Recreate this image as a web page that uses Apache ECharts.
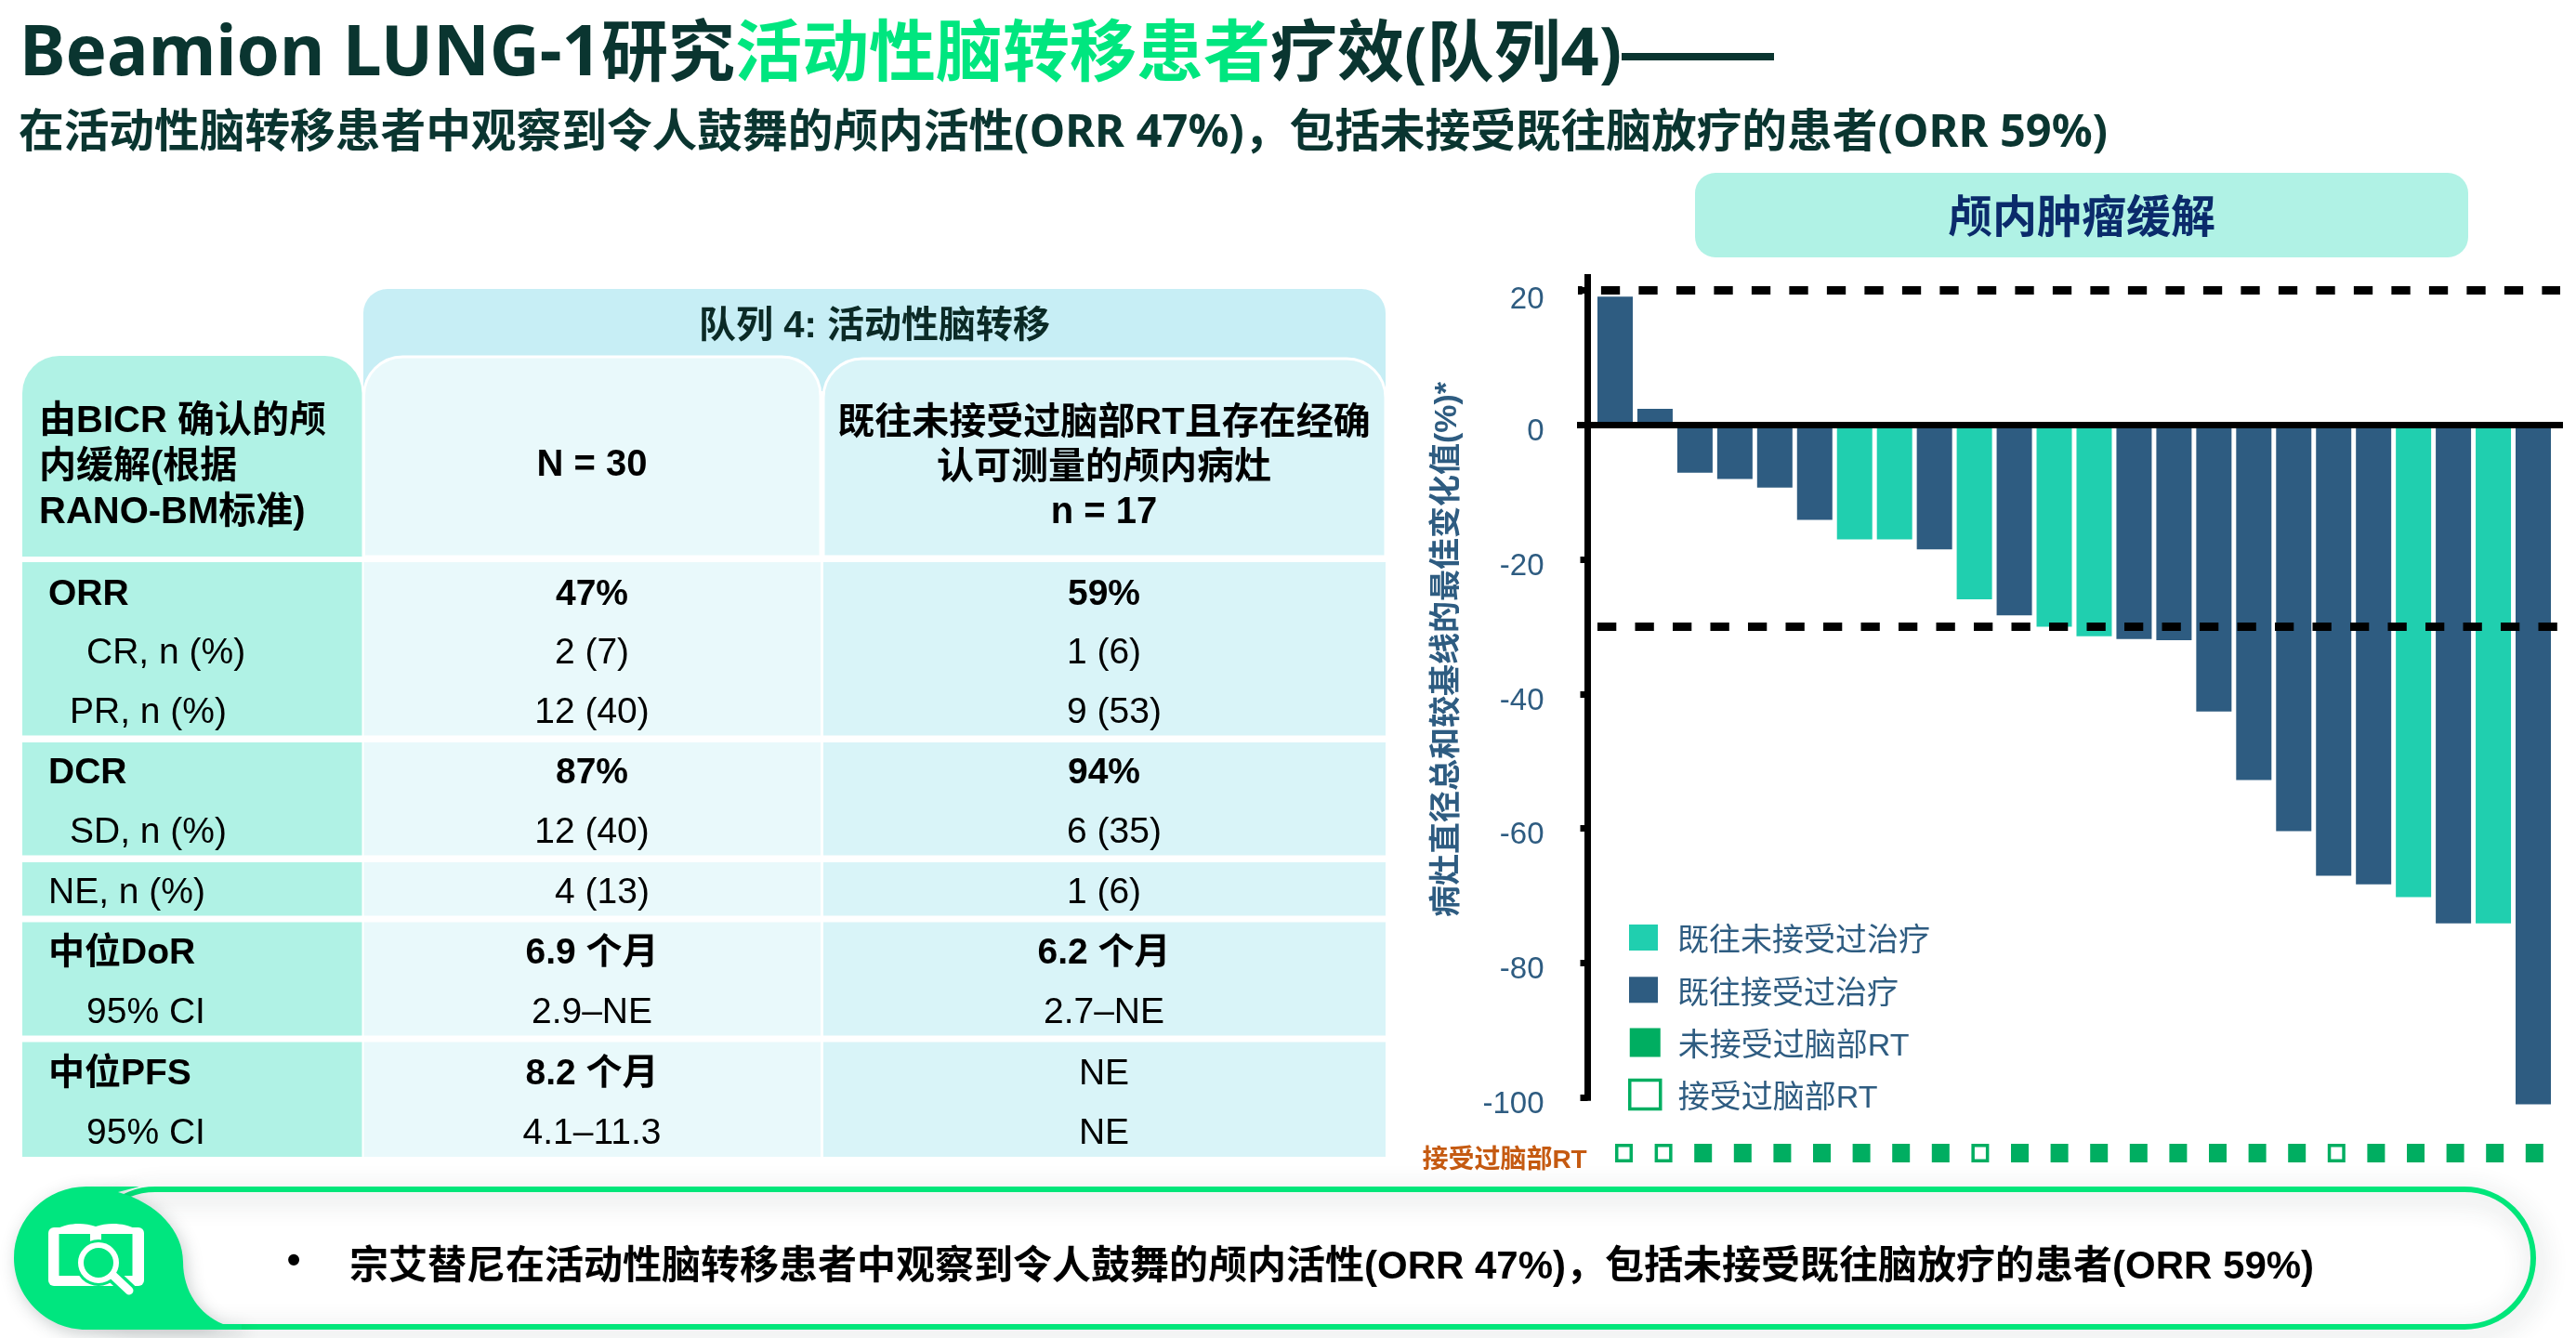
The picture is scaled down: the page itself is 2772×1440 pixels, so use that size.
<!DOCTYPE html>
<html><head><meta charset="utf-8">
<style>html,body{margin:0;padding:0;background:#fff}#c{width:2772px;height:1440px}</style>
<script src="https://cdn.jsdelivr.net/npm/echarts@6/dist/echarts.min.js"></script>
</head><body><div id="c"></div>
<script>
// ---- chart data ----
const patients = [1,2,3,4,5,6,7,8,9,10,11,12,13,14,15,16,17,18,19,20,21,22,23,24];
const bestChange = [19.1,2.4,-7.1,-8.0,-9.3,-14.1,-17.0,-17.0,-18.5,-25.9,-28.3,-30.0,-31.4,-31.8,-32.0,-42.6,-52.8,-60.4,-67.0,-68.3,-70.2,-74.1,-74.1,-101];
// 1 = no prior treatment (teal), 0 = prior treatment (navy)
const treatmentNaive = [0,0,0,0,0,0,1,1,0,1,0,1,1,0,0,0,0,0,0,0,1,0,1,0];
// 1 = prior brain RT (hollow), 0 = no prior brain RT (filled)
const priorBrainRT = [1,1,0,0,0,0,0,0,0,1,0,0,0,0,0,0,0,0,1,0,0,0,0,0];
const yTicks = [-100,-80,-60,-40,-20,0,20];
const thresholds = [20,-30];
const seriesNames = ['既往未接受过治疗','既往接受过治疗','未接受过脑部RT','接受过脑部RT'];
const yAxisTitle = '病灶直径总和较基线的最佳变化值(%)*';
const markerRowLabel = '接受过脑部RT';
const panelTitle = '颅内肿瘤缓解';

// ---- table text ----
const titleParts = ['Beamion LUNG-1','研究','活动性脑转移患者','疗效(队列4)','——'];
const subtitle = '在活动性脑转移患者中观察到令人鼓舞的颅内活性(ORR 47%)，包括未接受既往脑放疗的患者(ORR 59%)';
const cohortHeader = '队列 4: 活动性脑转移';
const headerCol1 = ['由BICR 确认的颅','内缓解(根据','RANO-BM标准)'];
const headerCol2 = ['N = 30'];
const headerCol3 = ['既往未接受过脑部RT且存在经确','认可测量的颅内病灶','n = 17'];
const rowLabels = ['ORR','CR, n (%)','PR, n (%)','DCR','SD, n (%)','NE, n (%)','中位DoR','95% CI','中位PFS','95% CI'];
const rowBold =   [1,0,0,1,0,0,1,0,1,0];
const col2Text =  ['47%','2 (7)','12 (40)','87%','12 (40)','4 (13)','6.9 个月','2.9–NE','8.2 个月','4.1–11.3'];
const col3Text =  ['59%','1 (6)','9 (53)','94%','6 (35)','1 (6)','6.2 个月','2.7–NE','NE','NE'];
const col3Bold =  [1,0,0,1,0,0,1,0,0,0];
const callout = '宗艾替尼在活动性脑转移患者中观察到令人鼓舞的颅内活性(ORR 47%)，包括未接受既往脑放疗的患者(ORR 59%)';

// ---- layout / style ----
const SANS='"Liberation Sans","Noto Sans CJK SC",sans-serif';
const HEAD='"Noto Sans","Noto Sans CJK SC",sans-serif';
const C={navy:'#2E5C81',teal:'#20CFAF',green:'#00AE61',mint:'#B0F2E5',c2:'#E9F9FB',c3:'#D9F4F8',hdr:'#C7EEF5',dark:'#0A3530',bright:'#00E67F'};
const rowY=[640,703,767,832,896,961,1026,1090,1156,1220.5];
const rowX=[52,93,75,52,75,52,52,93,52,93];
const col2Dx=[0,0,0,0,0,11,0,0,0,0], col3Dx=[0,0,11,0,11,0,0,0,0,0];
const bands=[[605,791.5],[799,920.5],[928,985.5],[992.5,1114.5],[1121.5,1245]];

function T(text,x,y,size,weight,fill,align,fam,extra){
  return Object.assign({type:'text',x:x,y:y,z:10,silent:true,style:{text:text,fontSize:size,fontWeight:weight||'normal',fill:fill||'#000',
    align:align||'left',textAlign:align||'left',verticalAlign:'middle',textVerticalAlign:'middle',fontFamily:fam||SANS}},extra||{});
}
function R(x,y,w,h,fill,r,extra){
  return Object.assign({type:'rect',z:1,silent:true,shape:{x:x,y:y,width:w,height:h,r:r||0},style:{fill:fill}},extra||{});
}
echarts.graphic.registerShape('calloutBlob',echarts.graphic.extendPath('M93 1277 L150 1277 L127 1283 C170 1295 197 1325 197 1358 C197 1390 215 1415 240 1425 L260 1425 L260 1431 L93 1431 C50 1431 15 1396 15 1354 C15 1311 50 1277 93 1277 Z',{}));
echarts.graphic.registerShape('bookTop',echarts.graphic.extendPath('M58 1324 C75 1315 90 1316 103 1320 C116 1316 132 1315 149 1324 Z',{}));
const g=[];
// heading
g.push({type:'text',x:21,y:60,z:10,silent:true,style:{
  text:'{l|'+titleParts[0]+'}{a|'+titleParts[1]+'}{b|'+titleParts[2]+'}{a|'+titleParts[3]+'}{d|'+titleParts[4]+'}',
  verticalAlign:'middle',textVerticalAlign:'middle',
  rich:{l:{fontSize:74.5,fontWeight:'bold',fill:C.dark,fontFamily:HEAD},
        a:{fontSize:72,fontWeight:'bold',fill:C.dark,fontFamily:HEAD},
        b:{fontSize:72,fontWeight:'bold',fill:C.bright,fontFamily:HEAD},
        d:{fontSize:82,fontWeight:'bold',fill:C.dark,fontFamily:SANS}}}});
g.push(T(subtitle,20,144,48.7,'bold',C.dark,'left',HEAD));
// table backgrounds
g.push(R(391,311,1100,110,C.hdr,[26,26,0,0]));
g.push(R(24,383,365.5,216,C.mint,[40,40,0,0]));
g.push(R(391.5,384,491.5,215,C.c2,[42,42,0,0],{z:2,style:{fill:C.c2,stroke:'#fff',lineWidth:3}}));
g.push(R(886,386,605,213,C.c3,[42,42,0,0],{z:2,style:{fill:C.c3,stroke:'#fff',lineWidth:3}}));
bands.forEach(function(b){
  g.push(R(24,b[0],365.5,b[1]-b[0],C.mint));
  g.push(R(391.5,b[0],491.5,b[1]-b[0],C.c2));
  g.push(R(886,b[0],605,b[1]-b[0],C.c3));
});
// table text
g.push(T(cohortHeader,941,352,40,'bold','#0b2a26','center'));
headerCol1.forEach(function(s,i){g.push(T(s,42,453.5+i*49,40,'bold','#000','left'));});
g.push(T(headerCol2[0],637,501,40,'bold','#000','center'));
headerCol3.forEach(function(s,i){g.push(T(s,1188,455.5+i*48,40,'bold','#000','center'));});
rowLabels.forEach(function(s,i){
  const w=rowBold[i]?'bold':'normal';
  g.push(T(s,rowX[i],rowY[i],39,w,'#000','left'));
  g.push(T(col2Text[i],637+col2Dx[i],rowY[i],39,w,'#000','center'));
  g.push(T(col3Text[i],1188+col3Dx[i],rowY[i],39,col3Bold[i]?'bold':'normal','#000','center'));
});
// panel title
g.push(R(1824,186,832,91,C.mint,22));
g.push(T(panelTitle,2240,237,48,'bold','#0B2B6B','center'));
g.push(T(yAxisTitle,1558,699,34,'bold',C.navy,'center',SANS,{rotation:Math.PI/2}));
// callout box
g.push(R(93,1280,2633,148,'#fff',74,{z:3}));
g.push(R(93,1280,2633,148,'rgba(0,0,0,0)',74,{z:4,style:{fill:'none',stroke:'#00E67A',lineWidth:6,shadowBlur:28,shadowColor:'rgba(40,60,60,0.32)',shadowOffsetX:4,shadowOffsetY:7}}));
g.push({type:'calloutBlob',z:5,silent:true,style:{fill:'#00E67F',shadowBlur:18,shadowColor:'rgba(40,60,60,0.25)',shadowOffsetX:3,shadowOffsetY:5}});
// icon
g.push(R(52,1321,103,63,'#fff',6,{z:6}));
g.push({type:'bookTop',z:6,silent:true,style:{fill:'#fff'}});
g.push(R(63.5,1328,79,45,'#00E67F',0,{z:7}));
g.push(R(97,1327,12,18,'#fff',0,{z:8}));
g.push({type:'circle',z:8,silent:true,shape:{cx:106,cy:1359,r:25},style:{fill:'#00E67F'}});
g.push({type:'line',z:8,silent:true,shape:{x1:121,y1:1372,x2:140,y2:1390},style:{stroke:'#00E67F',lineWidth:16,lineCap:'round'}});
g.push({type:'circle',z:9,silent:true,shape:{cx:106,cy:1359,r:19},style:{fill:'#00E67F',stroke:'#fff',lineWidth:6}});
g.push({type:'line',z:9,silent:true,shape:{x1:122,y1:1373,x2:139,y2:1389},style:{stroke:'#fff',lineWidth:9,lineCap:'round'}});
g.push(T('•',316,1358,42,'bold','#000','center'));
g.push(T(callout,376,1364,42,'bold','#000','left'));

// ---- chart series from the arrays ----
const PX=42.96;                      // one patient along the axis
const xMin=1-(1738-1697)/PX, xMax=24+(2758-2726)/PX;
const toPair=(pred)=>patients.map((p,i)=>pred(i)?[p,bestChange[i]]:[p,null]);
const lineCfg=function(from,to,v,offset){
  return [{xAxis:from,yAxis:v},{xAxis:to,yAxis:v,lineStyle:{color:'#000',width:9,type:[20.3,20.2],dashOffset:offset,cap:'butt'}}];
};
const markerData=(flag)=>patients.map((p,i)=>[i,0,priorBrainRT[i]]).filter(d=>d[2]===flag).map(d=>[d[0],d[1]]);
const legendRich=(left)=>({t:{fontSize:34,color:C.navy,fontFamily:SANS,lineHeight:28,padding:[10,0,0,left]}});
const option={
  animation:false,
  backgroundColor:'#fff',
  textStyle:{fontFamily:SANS},
  graphic:{elements:g},
  grid:[
    {left:1697,top:295,width:1061,height:889.7,containLabel:false},
    {left:1726.2,top:1221,width:1022.4,height:40,containLabel:false}
  ],
  xAxis:[
    {type:'value',gridIndex:0,min:xMin,max:xMax,z:6,splitLine:{show:false},axisTick:{show:false},axisLabel:{show:false},
     axisLine:{show:true,onZero:true,lineStyle:{color:'#000',width:7,cap:'butt'}}},
    {type:'category',gridIndex:1,data:patients,show:false}
  ],
  yAxis:[
    {type:'value',gridIndex:0,min:-100.48,max:22.45,offset:-11.5,z:6,splitLine:{show:false},
     axisLine:{show:true,onZero:false,lineStyle:{color:'#000',width:7,cap:'butt'}},
     axisTick:{show:true,length:8,lineStyle:{color:'#000',width:7},customValues:yTicks},
     axisLabel:{show:true,customValues:yTicks,margin:47,fontSize:33,color:C.navy,fontFamily:SANS,verticalAlign:'top',lineHeight:15,
       hideOverlap:false,
       formatter:function(v){return v===20?'{top|20}':String(v);},
       rich:{top:{fontSize:33,color:C.navy,fontFamily:SANS,lineHeight:15,padding:[6,0,0,0]}}}},
    {type:'category',gridIndex:1,data:[markerRowLabel],axisLine:{show:false},axisTick:{show:false},
     axisLabel:{margin:18.5,fontSize:28,fontWeight:'bold',color:'#C55A11',fontFamily:SANS,verticalAlign:'top',lineHeight:17}}
  ],
  legend:[
    {orient:'vertical',left:1753,top:987,itemWidth:31,itemHeight:28,itemGap:12.3,itemStyle:{borderWidth:0},selectedMode:false,
     formatter:'{t|{name}}',textStyle:{fontSize:34,color:C.navy,fontFamily:SANS,rich:legendRich(16)},padding:0,
     data:[{name:seriesNames[0],icon:'rect'},{name:seriesNames[1],icon:'rect'}]},
    {orient:'vertical',left:1752,top:1100,itemWidth:33,itemHeight:31,itemGap:12,selectedMode:false,
     formatter:'{t|{name}}',textStyle:{fontSize:34,color:C.navy,fontFamily:SANS,rich:legendRich(14)},padding:0,
     data:[{name:seriesNames[2],icon:'rect',itemStyle:{color:C.green,borderWidth:0}},
           {name:seriesNames[3],icon:'rect',itemStyle:{color:'#fff',borderColor:C.green,borderWidth:3.5}}]}
  ],
  series:[
    {name:seriesNames[0],type:'bar',xAxisIndex:0,yAxisIndex:0,barWidth:38,barGap:'-100%',clip:false,itemStyle:{color:C.teal},
     data:toPair(i=>treatmentNaive[i]===1)},
    {name:seriesNames[1],type:'bar',xAxisIndex:0,yAxisIndex:0,barWidth:38,barGap:'-100%',clip:false,itemStyle:{color:C.navy},
     data:toPair(i=>treatmentNaive[i]===0),
     markLine:{silent:true,symbol:'none',label:{show:false},animation:false,z:8,
       data:[lineCfg(xMin+0.023,xMax-0.07,thresholds[0],15.6),lineCfg(xMin+0.512,xMax,thresholds[1],0)]}},
    {name:seriesNames[2],type:'scatter',xAxisIndex:1,yAxisIndex:1,symbol:'rect',symbolSize:[19,20],itemStyle:{color:C.green,opacity:1},
     data:markerData(0)},
    {name:seriesNames[3],type:'scatter',xAxisIndex:1,yAxisIndex:1,symbol:'rect',symbolSize:[15.5,16.5],itemStyle:{color:'#fff',borderColor:C.green,borderWidth:3.6,opacity:1},
     data:markerData(1)}
  ]
};
const chart=echarts.init(document.getElementById('c'),null,{width:2772,height:1440,devicePixelRatio:1});
chart.setOption(option);
</script></body></html>
